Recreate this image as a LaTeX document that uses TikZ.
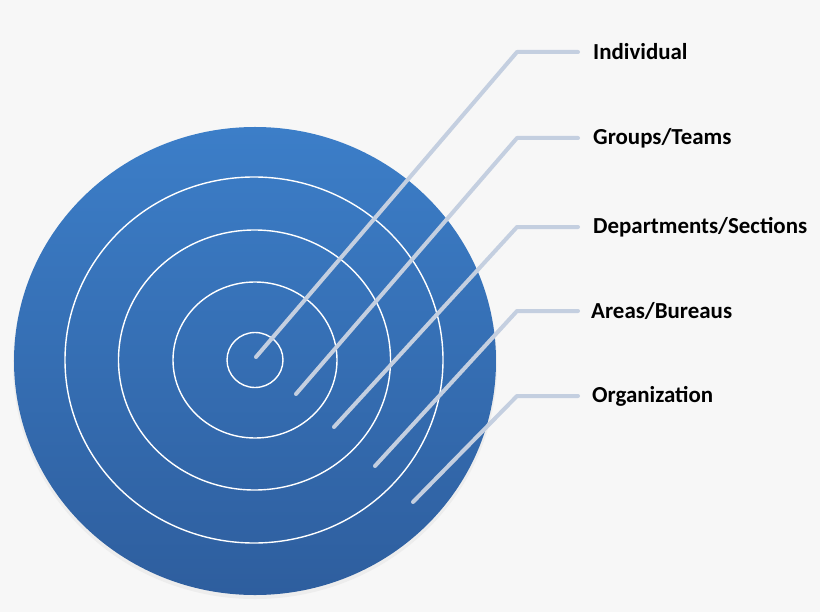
\documentclass[tikz,border=0pt]{standalone}
\usepackage{fontspec}
\setmainfont{Carlito}
\begin{document}
\begin{tikzpicture}[x=1bp,y=-1bp]
\definecolor{bgc}{RGB}{247,247,247}
\definecolor{bluetop}{RGB}{60,126,200}
\definecolor{bluebot}{RGB}{46,94,158}
\definecolor{leader}{RGB}{196,207,224}
\tikzset{
  ring/.style={draw=white, line width=1.4bp},
  leaderline/.style={draw=leader, line width=4bp, line cap=round, line join=round},
  lbl/.style={anchor=west, font=\bfseries\fontsize{23}{26}\selectfont, text=black, inner sep=0pt}
}
\fill[bgc] (0,0) rectangle (820,612);
\useasboundingbox (0,0) rectangle (820,612);
% shadow
\fill[black!7] (255,365) ellipse [x radius=242bp, y radius=234bp];
% main disc
\shade[top color=bluetop, bottom color=bluebot] (255,361) ellipse [x radius=241bp, y radius=234bp];
% rings
\draw[ring] (254,360) ellipse [x radius=189bp, y radius=183bp];
\draw[ring] (254.5,360) ellipse [x radius=136bp, y radius=130bp];
\draw[ring] (255,360) ellipse [x radius=82bp, y radius=78bp];
\draw[ring] (255,360) ellipse [x radius=28bp, y radius=27.5bp];
% labels
\node[lbl] (l1) at (593,52) {Individual};
\node[lbl] (l2) at (593,138) {Groups/Teams};
\node[lbl] (l3) at (593,227) {Departments/Sections};
\node[lbl] (l4) at (591,311) {Areas/Bureaus};
\node[lbl] (l5) at (592,396) {Organization};
% leader coordinates
\coordinate (s1) at (256,357);
\coordinate (s2) at (296,394);
\coordinate (s3) at (334,427);
\coordinate (s4) at (375,466);
\coordinate (s5) at (413,502);
\coordinate (e1) at (517,52);
\coordinate (e2) at (517,138);
\coordinate (e3) at (517,227);
\coordinate (e4) at (517,311);
\coordinate (e5) at (517,396);
\coordinate (h1) at (578,52);
\coordinate (h2) at (578,138);
\coordinate (h3) at (578,227);
\coordinate (h4) at (578,311);
\coordinate (h5) at (578,396);
\foreach \i in {1,...,5}{
  \draw[leaderline] (s\i) -- (e\i) -- (h\i);
}
\end{tikzpicture}
\end{document}
